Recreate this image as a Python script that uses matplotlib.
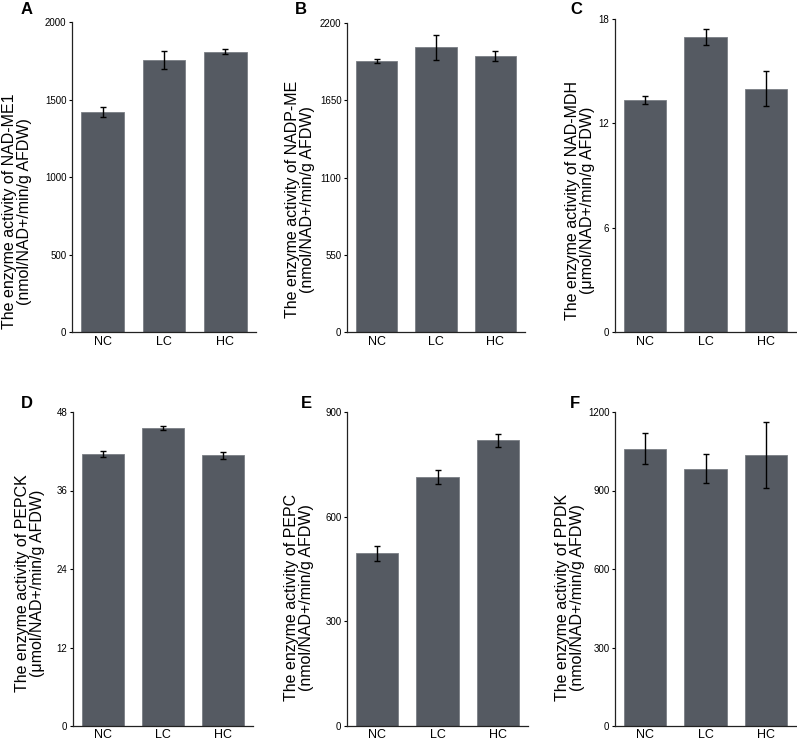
import numpy as np
import matplotlib
matplotlib.use('Agg')
import matplotlib.pyplot as plt

plt.rcParams['font.family'] = ['Liberation Sans', 'DejaVu Sans']

groups = ['NC', 'LC', 'HC']

# panel data
me1 = [1419, 1755, 1808]
me1_err = [32, 60, 17]
nadp = [1929, 2029, 1965]
nadp_err = [12, 89, 33]
mdh = [13.35, 16.97, 14.0]
mdh_err = [0.23, 0.48, 1.0]
pepck = [41.6, 45.55, 41.37]
pepck_err = [0.46, 0.33, 0.5]
pepc = [495, 714, 819]
pepc_err = [22, 19, 19]
ppdk = [1060, 983, 1037]
ppdk_err = [59, 56, 126]

panels = [
    ('A', me1, me1_err, [0, 500, 1000, 1500, 2000],
     'The enzyme activity of NAD-ME1\n(nmol/NAD+/min/g AFDW)'),
    ('B', nadp, nadp_err, [0, 550, 1100, 1650, 2200],
     'The enzyme activity of NADP-ME\n(nmol/NAD+/min/g AFDW)'),
    ('C', mdh, mdh_err, [0, 6, 12, 18],
     'The enzyme activity of NAD-MDH\n(μmol/NAD+/min/g AFDW)'),
    ('D', pepck, pepck_err, [0, 12, 24, 36, 48],
     'The enzyme activity of PEPCK\n(μmol/NAD+/min/g AFDW)'),
    ('E', pepc, pepc_err, [0, 300, 600, 900],
     'The enzyme activity of PEPC\n(nmol/NAD+/min/g AFDW)'),
    ('F', ppdk, ppdk_err, [0, 300, 600, 900, 1200],
     'The enzyme activity of PPDK\n(nmol/NAD+/min/g AFDW)'),
]

W, H = 797, 740
# axes boxes in pixels: left, right, top, bottom
boxes = [(72, 256, 22, 332), (347, 525, 23, 332), (615, 796, 19, 332),
         (73, 253, 412, 726), (347, 528, 412, 726), (615, 796, 412, 726)]
label_xy = [(-0.215, 0.39), (-0.18, 0.43), (-0.11, 0.42),
            (-0.153, 0.455), (-0.18, 0.41), (-0.166, 0.41)]
letter_pos = [(27, 10), (301, 10), (576, 10), (27, 404), (306, 404), (575, 404)]

fig = plt.figure(figsize=(W / 100, H / 100), dpi=100)
x = np.arange(len(groups))

for i, (letter, vals, errs, ticks, ylab) in enumerate(panels):
    l, r, t, b = boxes[i]
    ax = fig.add_axes([l / W, 1 - b / H, (r - l) / W, (b - t) / H])
    ax.bar(x, vals, width=0.7, color='#555a62', edgecolor='#7a7e84', linewidth=0.6,
           yerr=errs, error_kw=dict(ecolor='black', elinewidth=1.0, capsize=2.5, capthick=1.0))
    ax.set_xlim(-0.5, 2.5)
    ax.set_ylim(0, ticks[-1])
    ax.set_yticks(ticks)
    ax.set_xticks(x)
    ax.set_xticklabels(groups, fontsize=9)
    ax.tick_params(axis='x', length=0, pad=3 if i < 3 else 2.5)
    ax.tick_params(axis='y', length=2.5, width=0.8, labelsize=7, pad=1.5)
    for s in ['top', 'right']:
        ax.spines[s].set_visible(False)
    for s in ['left', 'bottom']:
        ax.spines[s].set_linewidth(0.9)
        ax.spines[s].set_color('#222222')
    ax.set_ylabel(ylab, fontsize=11.5, linespacing=1.02)
    ax.yaxis.set_label_coords(*label_xy[i])
    px, py = letter_pos[i]
    fig.text(px / W, 1 - py / H, letter, fontsize=12, fontweight='bold',
             ha='center', va='center')

fig.savefig('out.png', dpi=100)
